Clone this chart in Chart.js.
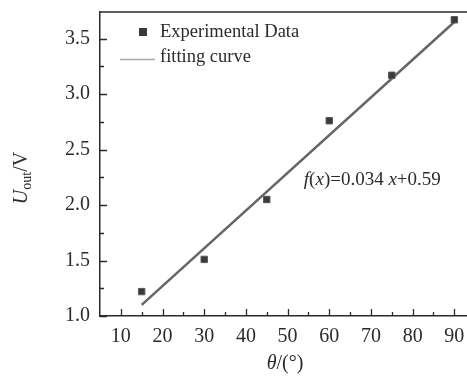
<!DOCTYPE html>
<html lang="en">
<head>
<meta charset="UTF-8">
<title>Uout vs theta</title>
<script src="https://cdn.jsdelivr.net/npm/chart.js"></script>
<style>
    html, body { margin: 0; background: #fff; overflow: hidden; }
    /* the plot runs off the right edge of the picture, so the canvas is a bit wider and clipped */
    .chart-container { width: 467px; height: 378px; overflow: hidden; }
</style>
</head>
<body>
<div class="chart-container">
    <canvas id="myChart" width="474" height="378"></canvas>
</div>
<script>
const angles = [15, 30, 45, 60, 75, 90];
const voltages = [1.22, 1.51, 2.05, 2.76, 3.17, 3.67];
// fitted line end points, f(x)=0.034x+0.59
const fitAngles = [15, 90];
const fitVoltages = [1.10, 3.65];
const xTickValues = [10, 20, 30, 40, 50, 60, 70, 80, 90];
const yTickValues = [1.0, 1.5, 2.0, 2.5, 3.0, 3.5];
const equationText = ['f', '(', 'x', ')=0.034 ', 'x', '+0.59'];

const serif = '"Liberation Serif", "Times New Roman", serif';
const ink = '#2b2b2b';

// frame, inward ticks, titles, legend and equation
const decorations = {
    id: 'decorations',
    afterDraw(chart) {
        const ctx = chart.ctx;
        const area = chart.chartArea;
        const xs = chart.scales.x;
        const ys = chart.scales.y;
        ctx.save();

        // top border
        ctx.strokeStyle = ink;
        ctx.lineWidth = 1.5;
        ctx.beginPath();
        ctx.moveTo(area.left, area.top);
        ctx.lineTo(area.right, area.top);
        ctx.stroke();

        // ticks pointing into the plot
        ctx.lineWidth = 1.3;
        ctx.beginPath();
        for (let v = 10; v <= 90; v += 5) {
            const px = Math.round(xs.getPixelForValue(v)) + 0.5;
            const len = v % 10 === 0 ? 7 : 4;
            ctx.moveTo(px, area.bottom);
            ctx.lineTo(px, area.bottom - len);
        }
        for (let i = 0; i <= 10; i++) {
            const v = 1.0 + i * 0.25;
            const py = Math.round(ys.getPixelForValue(v)) + 0.5;
            const len = i % 2 === 0 ? 7 : 4;
            ctx.moveTo(area.left, py);
            ctx.lineTo(area.left + len, py);
        }
        ctx.stroke();

        ctx.fillStyle = ink;
        ctx.textBaseline = 'middle';

        // y axis title: U_out/V
        ctx.save();
        ctx.translate(22, 178);
        ctx.rotate(-Math.PI / 2);
        ctx.font = 'italic 20px ' + serif;
        const wU = ctx.measureText('U').width;
        ctx.font = '14px ' + serif;
        const wOut = ctx.measureText('out').width;
        ctx.font = '20px ' + serif;
        const wV = ctx.measureText('/V').width;
        let cx = -(wU + wOut + wV) / 2;
        ctx.textAlign = 'left';
        ctx.font = 'italic 20px ' + serif;
        ctx.fillText('U', cx, 0);
        cx += wU;
        ctx.font = '14px ' + serif;
        ctx.fillText('out', cx, 5);
        cx += wOut;
        ctx.font = '20px ' + serif;
        ctx.fillText('/V', cx, 0);
        ctx.restore();

        // x axis title: θ/(°)
        ctx.font = 'italic 20px ' + serif;
        const wT = ctx.measureText('θ').width;
        ctx.font = '20px ' + serif;
        const wRest = ctx.measureText('/(°)').width;
        let tx = 285 - (wT + wRest) / 2;
        ctx.textAlign = 'left';
        ctx.font = 'italic 20px ' + serif;
        ctx.fillText('θ', tx, 364);
        ctx.font = '20px ' + serif;
        ctx.fillText('/(°)', tx + wT, 364);

        // legend
        ctx.fillStyle = '#3a3a3a';
        ctx.fillRect(139, 28, 8, 8);
        ctx.strokeStyle = '#aaaaaa';
        ctx.lineWidth = 1.5;
        ctx.beginPath();
        ctx.moveTo(120, 59.5);
        ctx.lineTo(155, 59.5);
        ctx.stroke();
        ctx.fillStyle = ink;
        ctx.font = '18.5px ' + serif;
        ctx.fillText('Experimental Data', 160, 32);
        ctx.fillText('fitting curve', 160, 57);

        // equation, anchored in data space
        let ex = xs.getPixelForValue(53.9);
        const ey = ys.getPixelForValue(2.23);
        equationText.forEach(part => {
            const italic = part === 'f' || part === 'x';
            ctx.font = (italic ? 'italic ' : '') + '19px ' + serif;
            ctx.fillText(part, ex, ey);
            ex += ctx.measureText(part).width;
        });

        ctx.restore();
    }
};

const ctx = document.getElementById('myChart').getContext('2d');
new Chart(ctx, {
    type: 'scatter',
    data: {
        datasets: [{
            label: 'Experimental Data',
            data: angles.map((a, i) => ({ x: a, y: voltages[i] })),
            pointStyle: 'rect',
            pointRadius: 4.5,
            pointHoverRadius: 4.5,
            backgroundColor: '#3a3a3a',
            borderColor: '#555555',
            borderWidth: 1,
            order: 0
        }, {
            type: 'line',
            label: 'fitting curve',
            data: fitAngles.map((a, i) => ({ x: a, y: fitVoltages[i] })),
            borderColor: '#666666',
            borderWidth: 2.5,
            pointRadius: 0,
            fill: false,
            order: 1
        }]
    },
    options: {
        responsive: false,
        animation: false,
        layout: { padding: { top: 12, right: 0, left: 0, bottom: 0 } },
        plugins: {
            legend: { display: false },
            tooltip: { enabled: false }
        },
        scales: {
            x: {
                type: 'linear',
                min: 5,
                max: 93.4,
                afterBuildTicks: scale => { scale.ticks = xTickValues.map(v => ({ value: v })); },
                afterFit: scale => {
                    scale.height = 62;
                    scale.paddingLeft = 0;
                    scale.paddingRight = 0;
                },
                grid: { drawOnChartArea: false, drawTicks: false },
                border: { display: true, color: ink, width: 1.5 },
                ticks: {
                    padding: 9,
                    color: ink,
                    font: { family: serif, size: 20 },
                    maxRotation: 0,
                    autoSkip: false
                }
            },
            y: {
                type: 'linear',
                min: 1.0,
                max: 3.74,
                afterBuildTicks: scale => { scale.ticks = yTickValues.map(v => ({ value: v })); },
                afterFit: scale => {
                    scale.width = 100;
                    scale.paddingTop = 0;
                    scale.paddingBottom = 0;
                },
                grid: { drawOnChartArea: false, drawTicks: false },
                border: { display: true, color: ink, width: 1.5 },
                ticks: {
                    padding: 10,
                    color: ink,
                    font: { family: serif, size: 20 },
                    callback: v => v.toFixed(1)
                }
            }
        }
    },
    plugins: [decorations]
});
</script>
</body>
</html>
